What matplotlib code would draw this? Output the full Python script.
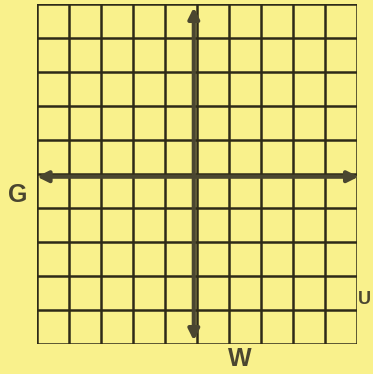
import matplotlib
matplotlib.use("Agg")
import matplotlib.pyplot as plt

# grid runs from -5 to 5 in both directions
x_ticks = list(range(-5, 6))
y_ticks = list(range(-5, 6))
labels = ["G", "U", "W"]

bg = "#f9f18c"
ink = "#2e2a18"
axis_col = "#4a4630"

fig = plt.figure(figsize=(3.73, 3.74), dpi=100, facecolor=bg)
ax = fig.add_axes([37/373, 30/374, 320/373, 340/374])
ax.set_facecolor(bg)
ax.set_xlim(-5, 5)
ax.set_ylim(-5, 5)

for x in x_ticks:
    ax.axvline(x, color=ink, lw=1.8, zorder=1)
for y in y_ticks:
    ax.axhline(y, color=ink, lw=1.8, zorder=1)

# axes with arrows on both ends
arr = dict(arrowstyle="<|-|>", color=axis_col, lw=3, mutation_scale=16, shrinkA=0, shrinkB=0)
ax.annotate("", xy=(5.05, -0.08), xytext=(-5.0, -0.08), arrowprops=arr, zorder=3,
            annotation_clip=False)
ax.annotate("", xy=(-0.1, 4.9), xytext=(-0.1, -4.9), arrowprops=arr, zorder=3,
            annotation_clip=False)

for s in ax.spines.values():
    s.set_visible(False)
ax.set_xticks([])
ax.set_yticks([])

fig.text(18/373, 1 - 195/374, labels[0], ha="center", va="center", fontsize=18,
         fontweight="bold", color=axis_col, family="Liberation Sans")
fig.text(358/373, 1 - 300/374, labels[1], ha="left", va="center", fontsize=13,
         fontweight="bold", color=axis_col, family="Liberation Sans")
fig.text(240/373, 1 - 359/374, labels[2], ha="center", va="center", fontsize=18,
         fontweight="bold", color=axis_col, family="Liberation Sans")

fig.savefig("out.png", dpi=100, facecolor=bg)
